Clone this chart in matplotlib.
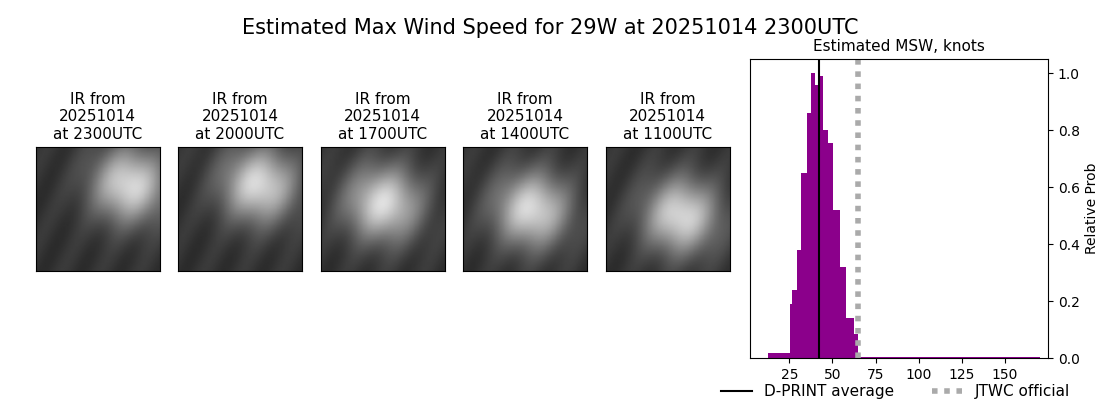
import numpy as np
import matplotlib
matplotlib.use("Agg")
import matplotlib.pyplot as plt

edges = [12.8, 25.4, 26.6, 29.5, 31.8, 35.4, 37.6, 39.7, 42.0, 44.4, 47.6, 50.2, 54.4, 57.9, 62.5, 64.6, 170.3]
probs = [0.018, 0.19, 0.24, 0.38, 0.65, 0.86, 1.0, 0.96, 0.99, 0.80, 0.755, 0.52, 0.32, 0.14, 0.084, 0.005]
dprint_avg = 41.9
jtwc = 64.5
img_times = ["2300UTC", "2000UTC", "1700UTC", "1400UTC", "1100UTC"]
img_date = "20251014"

W, H = 1100, 409
fig = plt.figure(figsize=(W/100, H/100), dpi=100)
fig.suptitle("Estimated Max Wind Speed for 29W at 20251014 2300UTC", fontsize=15, y=1-18/H)

yy, xx = np.mgrid[0:100, 0:100] / 100.0
centers = [(0.75, 0.3), (0.65, 0.3), (0.5, 0.45), (0.55, 0.5), (0.6, 0.55)]
for i, t in enumerate(img_times):
    left = 35 + i*142.5
    ax = fig.add_axes([left/W, 1-271/H, 125/W, 124/H])
    cx, cy = centers[i]
    r = np.sqrt((xx-cx)**2 + (yy-cy)**2)
    img = 0.2 + 0.65*np.exp(-(r/0.3)**2) + 0.03*np.sin(xx*20+yy*10)
    ax.imshow(img, cmap="gray", vmin=0, vmax=1)
    ax.set_xticks([]); ax.set_yticks([])
    ax.set_title(f"IR from\n{img_date}\nat {t}", fontsize=11)

ax = fig.add_axes([750/W, 1-358/H, 298/W, 299/H])
ax.stairs(probs, edges, fill=True, color="#8b008b")
l1 = ax.axvline(dprint_avg, color="black", lw=1.5, label="D-PRINT average")
l2 = ax.axvline(jtwc, color="#aaaaaa", lw=4, ls=(0, (1, 1.2)), label="JTWC official")
ax.set_xlim(2.2, 174.9)
ax.set_ylim(0, 1.05)
ax.set_xticks([25, 50, 75, 100, 125, 150])
ax.yaxis.tick_right()
ax.yaxis.set_label_position("right")
ax.set_ylabel("Relative Prob")
ax.set_title("Estimated MSW, knots", fontsize=11)
fig.legend(handles=[l1, l2], loc="lower right", bbox_to_anchor=(1084/W, -4/H), ncol=2,
           frameon=False, fontsize=11, handlelength=2, columnspacing=2.5)
fig.savefig("out.png", dpi=100)
